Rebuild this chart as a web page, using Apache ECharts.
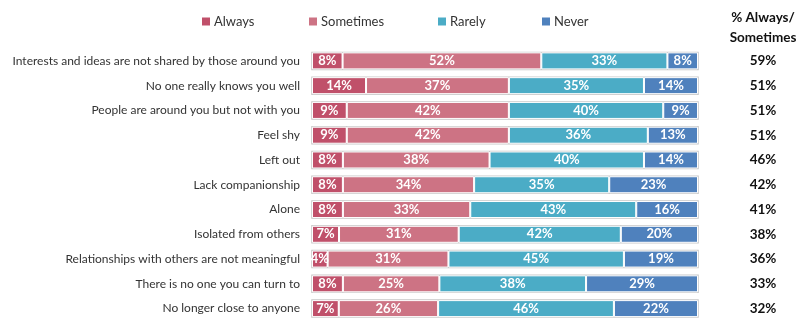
<!DOCTYPE html>
<html><head><meta charset="utf-8">
<script src="https://cdn.jsdelivr.net/npm/echarts@6/dist/echarts.min.js"></script>
<style>html,body{margin:0;padding:0;background:#fff}#c{width:802px;height:321px}</style>
</head><body><div id="c"></div>
<script>
const categories = [
  "Interests and ideas are not shared by those around you",
  "No one really knows you well",
  "People are around you but not with you",
  "Feel shy",
  "Left out",
  "Lack companionship",
  "Alone",
  "Isolated from others",
  "Relationships with others are not meaningful",
  "There is no one you can turn to",
  "No longer close to anyone"
];
const always    = [8, 14, 9, 9, 8, 8, 8, 7, 4, 8, 7];
const sometimes = [52, 37, 42, 42, 38, 34, 33, 31, 31, 25, 26];
const rarely    = [33, 35, 40, 36, 40, 35, 43, 42, 45, 38, 46];
const never     = [8, 14, 9, 13, 14, 23, 16, 20, 19, 29, 22];
const alwaysSometimes = ["59%", "51%", "51%", "51%", "46%", "42%", "41%", "38%", "36%", "33%", "32%"];
const seriesNames = ["Always", "Sometimes", "Rarely", "Never"];
const colors = ["#c0506a", "#cd7384", "#4bacc6", "#4f81bd"];

const FONT = "Lato";
const raw = [always, sometimes, rarely, never];
const totals = categories.map((_, i) => raw.reduce((s, a) => s + a[i], 0));

const chart = echarts.init(document.getElementById('c'), null, {renderer: 'canvas'});
const legendLefts = [195, 302, 431, 535];
chart.setOption({
  animation: false,
  textStyle: {fontFamily: FONT},
  color: colors,
  legend: seriesNames.map((n, k) => ({
    data: [n], left: legendLefts[k], top: 10, icon: 'rect', itemWidth: 10, itemHeight: 10, itemGap: 4,
    textStyle: {fontFamily: FONT, fontSize: 13, color: '#333', padding: [0, 0, 0, -2]},
    selectedMode: false
  })),
  graphic: [{
    type: 'text', x: 763, y: 8,
    style: {text: "% Always/\nSometimes", align: 'center', font: 'bold 13.5px ' + FONT, lineHeight: 20, fill: '#111'}
  }],
  grid: {left: 312, right: 104, top: 48.5, height: 276, containLabel: false},
  xAxis: {type: 'value', min: 0, max: 100, show: false},
  yAxis: [{
    type: 'category', data: categories, inverse: true,
    axisLine: {show: false}, axisTick: {show: false},
    axisLabel: {margin: 12, fontSize: 12, color: '#333', fontFamily: FONT}
  }, {
    type: 'category', data: alwaysSometimes, inverse: true, position: 'right',
    axisLine: {show: false}, axisTick: {show: false},
    axisLabel: {margin: 65, align: 'center', fontSize: 13.5, fontWeight: 'bold', color: '#111', fontFamily: FONT}
  }],
  series: raw.map((arr, k) => ({
    name: seriesNames[k], type: 'bar', stack: 'all', barWidth: 17,
    showBackground: k === 0,
    backgroundStyle: {color: 'rgba(0,0,0,0)', borderColor: '#c8c8c8', borderWidth: 1.5},
    itemStyle: {color: colors[k], borderColor: '#ffffff', borderWidth: 1},
    label: {
      show: true, position: 'inside', color: '#fff', fontWeight: 'bold', fontSize: 13, fontFamily: FONT,
      formatter: p => raw[k][p.dataIndex] + '%'
    },
    data: arr.map((v, i) => v / totals[i] * 100)
  }))
});
</script></body></html>
